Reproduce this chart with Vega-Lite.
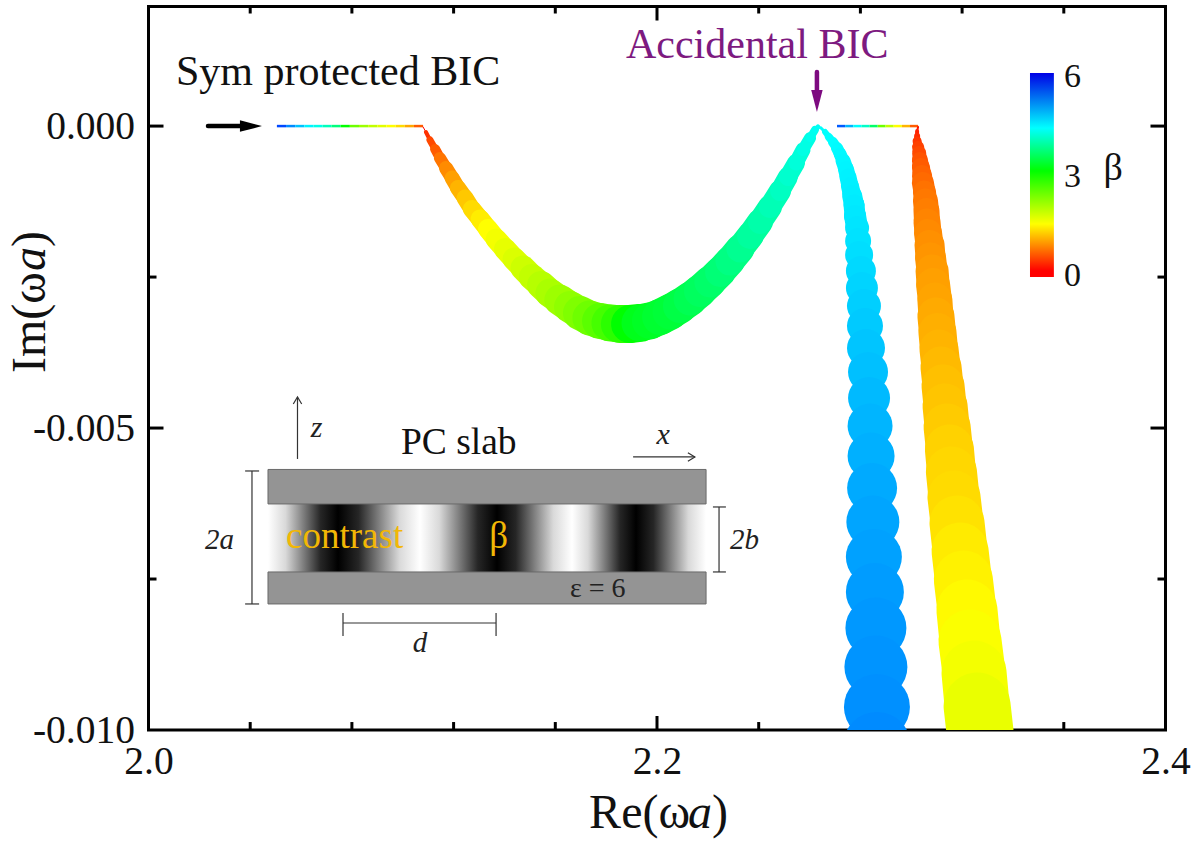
{"$schema":"https://vega.github.io/schema/vega-lite/v6.json","autosize":{"type":"none"},"padding":{"left":148.5,"top":6.5,"right":37.5,"bottom":111},"width":1017,"height":723.5,"background":"white","config":{"font":"Liberation Serif","view":{"stroke":"#000","strokeWidth":3},"text":{"font":"Liberation Serif"}},
"datasets":{
"band1":[
{"x":2.1080,"y":-0.000015,"d":1,"beta":0},{"x":2.1091,"y":-0.000098,"d":4,"beta":0.1},{"x":2.1107,"y":-0.00023,"d":7,"beta":0.2},{"x":2.1127,"y":-0.000379,"d":10,"beta":0.3},{"x":2.1146,"y":-0.000528,"d":12,"beta":0.45},{"x":2.1170,"y":-0.000694,"d":14,"beta":0.6},{"x":2.1194,"y":-0.000859,"d":15,"beta":0.75},{"x":2.1217,"y":-0.001025,"d":16,"beta":0.9},{"x":2.1245,"y":-0.001191,"d":17,"beta":1.05},{"x":2.1272,"y":-0.001373,"d":18,"beta":1.2},{"x":2.1304,"y":-0.001538,"d":19,"beta":1.35},{"x":2.1335,"y":-0.001704,"d":20,"beta":1.5},{"x":2.1367,"y":-0.001869,"d":21,"beta":1.62},{"x":2.1402,"y":-0.002035,"d":22,"beta":1.75},{"x":2.1438,"y":-0.0022,"d":23,"beta":1.87},{"x":2.1473,"y":-0.00235,"d":25,"beta":2.0},{"x":2.1508,"y":-0.002499,"d":26,"beta":2.1},{"x":2.1544,"y":-0.002631,"d":28,"beta":2.2},{"x":2.1579,"y":-0.002764,"d":29,"beta":2.3},{"x":2.1618,"y":-0.00288,"d":31,"beta":2.4},{"x":2.1658,"y":-0.002995,"d":32,"beta":2.5},{"x":2.1697,"y":-0.003095,"d":34,"beta":2.6},{"x":2.1736,"y":-0.003177,"d":35,"beta":2.7},{"x":2.1776,"y":-0.003227,"d":36,"beta":2.8},{"x":2.1815,"y":-0.00326,"d":37,"beta":2.88},{"x":2.1854,"y":-0.003277,"d":38,"beta":2.95},{"x":2.1894,"y":-0.003277,"d":38,"beta":3.0},{"x":2.1933,"y":-0.00326,"d":37,"beta":3.03},{"x":2.1972,"y":-0.003227,"d":36,"beta":3.05},{"x":2.2012,"y":-0.003161,"d":36,"beta":3.08},{"x":2.2051,"y":-0.003078,"d":35,"beta":3.1},{"x":2.2090,"y":-0.002979,"d":34,"beta":3.15},{"x":2.2130,"y":-0.002863,"d":33,"beta":3.2},{"x":2.2169,"y":-0.00273,"d":32,"beta":3.25},{"x":2.2208,"y":-0.002581,"d":31,"beta":3.3},{"x":2.2248,"y":-0.002416,"d":30,"beta":3.37},{"x":2.2287,"y":-0.002234,"d":29,"beta":3.44},{"x":2.2326,"y":-0.002035,"d":27,"beta":3.52},{"x":2.2366,"y":-0.00182,"d":26,"beta":3.6},{"x":2.2405,"y":-0.001588,"d":24,"beta":3.68},{"x":2.2444,"y":-0.00134,"d":22,"beta":3.76},{"x":2.2484,"y":-0.001075,"d":20,"beta":3.85},{"x":2.2515,"y":-0.000843,"d":18,"beta":3.95},{"x":2.2547,"y":-0.000611,"d":15,"beta":4.05},{"x":2.2574,"y":-0.000396,"d":12,"beta":4.15},{"x":2.2602,"y":-0.000197,"d":8,"beta":4.25},{"x":2.2621,"y":-0.000065,"d":5,"beta":4.32},{"x":2.2633,"y":-0.000015,"d":2,"beta":4.4}
],
"band2":[
{"x":2.2633,"y":-0.000015,"d":2,"beta":4.42},{"x":2.2645,"y":-0.000031,"d":3,"beta":4.45},{"x":2.2661,"y":-0.000098,"d":6,"beta":4.47},{"x":2.2676,"y":-0.00018,"d":8,"beta":4.49},{"x":2.2692,"y":-0.000263,"d":10,"beta":4.51},{"x":2.2708,"y":-0.000363,"d":12,"beta":4.53},{"x":2.2720,"y":-0.000462,"d":13,"beta":4.55},{"x":2.2732,"y":-0.000578,"d":15,"beta":4.57},{"x":2.2743,"y":-0.00071,"d":16,"beta":4.59},{"x":2.2751,"y":-0.000843,"d":17,"beta":4.61},{"x":2.2759,"y":-0.000992,"d":18,"beta":4.63},{"x":2.2767,"y":-0.001141,"d":20,"beta":4.65},{"x":2.2775,"y":-0.001306,"d":21,"beta":4.67},{"x":2.2779,"y":-0.001489,"d":22,"beta":4.70},{"x":2.2787,"y":-0.001687,"d":24,"beta":4.72},{"x":2.2791,"y":-0.001903,"d":26,"beta":4.75},{"x":2.2795,"y":-0.002134,"d":28,"beta":4.78},{"x":2.2802,"y":-0.002399,"d":30,"beta":4.82},{"x":2.2806,"y":-0.002681,"d":32,"beta":4.86},{"x":2.2814,"y":-0.002979,"d":34,"beta":4.90},{"x":2.2818,"y":-0.00331,"d":36,"beta":4.94},{"x":2.2822,"y":-0.003674,"d":38,"beta":4.98},{"x":2.2830,"y":-0.004072,"d":40,"beta":5.02},{"x":2.2834,"y":-0.004502,"d":42,"beta":5.06},{"x":2.2838,"y":-0.004966,"d":45,"beta":5.1},{"x":2.2842,"y":-0.005463,"d":47,"beta":5.14},{"x":2.2846,"y":-0.005992,"d":50,"beta":5.18},{"x":2.2849,"y":-0.006555,"d":53,"beta":5.22},{"x":2.2853,"y":-0.007135,"d":56,"beta":5.25},{"x":2.2857,"y":-0.007714,"d":58,"beta":5.28},{"x":2.2861,"y":-0.008311,"d":61,"beta":5.31},{"x":2.2861,"y":-0.008956,"d":63,"beta":5.34},{"x":2.2865,"y":-0.009619,"d":66,"beta":5.37},{"x":2.2865,"y":-0.010264,"d":68,"beta":5.4}
],
"band3":[
{"x":2.3027,"y":-0.000015,"d":2,"beta":0.02},{"x":2.3023,"y":-0.000081,"d":4,"beta":0.05},{"x":2.3023,"y":-0.000164,"d":6,"beta":0.08},{"x":2.3023,"y":-0.000247,"d":9,"beta":0.12},{"x":2.3027,"y":-0.000346,"d":12,"beta":0.16},{"x":2.3031,"y":-0.000445,"d":14,"beta":0.2},{"x":2.3034,"y":-0.000561,"d":16,"beta":0.25},{"x":2.3038,"y":-0.000677,"d":18,"beta":0.29},{"x":2.3042,"y":-0.00081,"d":20,"beta":0.34},{"x":2.3046,"y":-0.000942,"d":22,"beta":0.38},{"x":2.3052,"y":-0.001091,"d":23,"beta":0.43},{"x":2.3056,"y":-0.00124,"d":25,"beta":0.47},{"x":2.3060,"y":-0.001406,"d":26,"beta":0.51},{"x":2.3062,"y":-0.001588,"d":27,"beta":0.55},{"x":2.3066,"y":-0.00177,"d":28,"beta":0.59},{"x":2.3072,"y":-0.001969,"d":30,"beta":0.63},{"x":2.3076,"y":-0.002184,"d":31,"beta":0.67},{"x":2.3082,"y":-0.002399,"d":33,"beta":0.71},{"x":2.3086,"y":-0.002631,"d":34,"beta":0.75},{"x":2.3093,"y":-0.00288,"d":35,"beta":0.78},{"x":2.3097,"y":-0.003144,"d":37,"beta":0.82},{"x":2.3103,"y":-0.003409,"d":38,"beta":0.86},{"x":2.3109,"y":-0.003691,"d":39,"beta":0.9},{"x":2.3117,"y":-0.003989,"d":41,"beta":0.94},{"x":2.3125,"y":-0.004303,"d":43,"beta":0.99},{"x":2.3133,"y":-0.004635,"d":45,"beta":1.03},{"x":2.3141,"y":-0.004982,"d":47,"beta":1.08},{"x":2.3150,"y":-0.005347,"d":49,"beta":1.13},{"x":2.3158,"y":-0.005727,"d":51,"beta":1.17},{"x":2.3168,"y":-0.006141,"d":53,"beta":1.2},{"x":2.3180,"y":-0.006572,"d":55,"beta":1.26},{"x":2.3192,"y":-0.007036,"d":57,"beta":1.33},{"x":2.3205,"y":-0.007516,"d":59,"beta":1.39},{"x":2.3219,"y":-0.008012,"d":61,"beta":1.46},{"x":2.3231,"y":-0.008526,"d":63,"beta":1.54},{"x":2.3247,"y":-0.009056,"d":65,"beta":1.62},{"x":2.3259,"y":-0.009602,"d":67,"beta":1.72},{"x":2.3274,"y":-0.010165,"d":69,"beta":1.8}
],
"flat":[
{"x":2.0505,"x2":2.0541,"y":0,"beta":5.8},{"x":2.0541,"x2":2.0577,"y":0,"beta":5.4},{"x":2.0577,"x2":2.0613,"y":0,"beta":5.0},{"x":2.0613,"x2":2.0649,"y":0,"beta":4.6},{"x":2.0649,"x2":2.0685,"y":0,"beta":4.2},{"x":2.0685,"x2":2.0720,"y":0,"beta":3.8},{"x":2.0720,"x2":2.0756,"y":0,"beta":3.4},{"x":2.0756,"x2":2.0792,"y":0,"beta":3.0},{"x":2.0792,"x2":2.0828,"y":0,"beta":2.7},{"x":2.0828,"x2":2.0864,"y":0,"beta":2.4},{"x":2.0864,"x2":2.0900,"y":0,"beta":2.1},{"x":2.0900,"x2":2.0936,"y":0,"beta":1.8},{"x":2.0936,"x2":2.0972,"y":0,"beta":1.5},{"x":2.0972,"x2":2.1008,"y":0,"beta":1.2},{"x":2.1008,"x2":2.1044,"y":0,"beta":0.8},{"x":2.1044,"x2":2.1080,"y":0,"beta":0.3},
{"x":2.2708,"x2":2.2740,"y":0,"beta":5.7},{"x":2.2740,"x2":2.2772,"y":0,"beta":5.1},{"x":2.2772,"x2":2.2804,"y":0,"beta":4.5},{"x":2.2804,"x2":2.2836,"y":0,"beta":3.9},{"x":2.2836,"x2":2.2868,"y":0,"beta":3.3},{"x":2.2868,"x2":2.2899,"y":0,"beta":2.7},{"x":2.2899,"x2":2.2931,"y":0,"beta":2.1},{"x":2.2931,"x2":2.2963,"y":0,"beta":1.5},{"x":2.2963,"x2":2.2995,"y":0,"beta":0.9},{"x":2.2995,"x2":2.3027,"y":0,"beta":0.3}
],
"ticks":[
{"x":2.04,"x2":2.04,"y":-0.01,"y2":-0.009868},{"x":2.08,"x2":2.08,"y":-0.01,"y2":-0.009868},{"x":2.12,"x2":2.12,"y":-0.01,"y2":-0.009868},{"x":2.16,"x2":2.16,"y":-0.01,"y2":-0.009868},{"x":2.2,"x2":2.2,"y":-0.01,"y2":-0.009768},{"x":2.24,"x2":2.24,"y":-0.01,"y2":-0.009868},{"x":2.28,"x2":2.28,"y":-0.01,"y2":-0.009868},{"x":2.32,"x2":2.32,"y":-0.01,"y2":-0.009868},{"x":2.36,"x2":2.36,"y":-0.01,"y2":-0.009868},
{"x":2.04,"x2":2.04,"y":0.00198,"y2":0.001864},{"x":2.08,"x2":2.08,"y":0.00198,"y2":0.001864},{"x":2.12,"x2":2.12,"y":0.00198,"y2":0.001864},{"x":2.16,"x2":2.16,"y":0.00198,"y2":0.001864},{"x":2.2,"x2":2.2,"y":0.00198,"y2":0.001748},{"x":2.24,"x2":2.24,"y":0.00198,"y2":0.001864},{"x":2.28,"x2":2.28,"y":0.00198,"y2":0.001864},{"x":2.32,"x2":2.32,"y":0.00198,"y2":0.001864},{"x":2.36,"x2":2.36,"y":0.00198,"y2":0.001864},
{"x":2,"x2":2.0059,"y":0,"y2":0},{"x":2,"x2":2.00315,"y":-0.0025,"y2":-0.0025},{"x":2,"x2":2.0059,"y":-0.005,"y2":-0.005},{"x":2,"x2":2.00315,"y":-0.0075,"y2":-0.0075},
{"x":2.4,"x2":2.3941,"y":0,"y2":0},{"x":2.4,"x2":2.39685,"y":-0.0025,"y2":-0.0025},{"x":2.4,"x2":2.3941,"y":-0.005,"y2":-0.005},{"x":2.4,"x2":2.39685,"y":-0.0075,"y2":-0.0075}
],
"slabs":[{"x":2.0470,"x2":2.2193,"y":-0.005686,"y2":-0.006257},{"x":2.0470,"x2":2.2193,"y":-0.007383,"y2":-0.007913}],
"lines":[
{"x":2.0586,"x2":2.0586,"y":-0.004486,"y2":-0.005512},{"x":2.1906,"x2":2.2149,"y":-0.005479,"y2":-0.005479},
{"x":2.0407,"x2":2.0407,"y":-0.005711,"y2":-0.007913},{"x":2.0380,"x2":2.0435,"y":-0.005711,"y2":-0.005711},{"x":2.0380,"x2":2.0435,"y":-0.007913,"y2":-0.007913},
{"x":2.2244,"x2":2.2244,"y":-0.006307,"y2":-0.007383},{"x":2.2220,"x2":2.2271,"y":-0.006307,"y2":-0.006307},{"x":2.2220,"x2":2.2271,"y":-0.007383,"y2":-0.007383},
{"x":2.0765,"x2":2.1367,"y":-0.008228,"y2":-0.008228},{"x":2.0765,"x2":2.0765,"y":-0.008062,"y2":-0.008443},{"x":2.1367,"x2":2.1367,"y":-0.008062,"y2":-0.008443}
]
},
"encoding":{
"x":{"field":"x","type":"quantitative","scale":{"domain":[2,2.4],"nice":false,"zero":false},"axis":{"title":null,"grid":false,"domain":false,"ticks":false,"values":[2,2.2,2.4],"format":".1f","labelFont":"Liberation Serif","labelFontSize":39.5,"labelColor":"#111","labelPadding":12.5,"labelFlush":false,"labelOverlap":false,"labelBound":false}},
"y":{"field":"y","type":"quantitative","scale":{"domain":[-0.01,0.00198],"nice":false,"zero":false},"axis":{"title":null,"grid":false,"domain":false,"ticks":false,"values":[0,-0.005,-0.01],"labelExpr":"replace(format(datum.value,'.3f'),'−','-')","labelFont":"Liberation Serif","labelFontSize":39.5,"labelColor":"#111","labelPadding":14,"labelFlush":false,"labelOverlap":false,"labelBound":false}}
},
"layer":[
{"data":{"values":[{"x":2.0470,"x2":2.2193,"y":-0.006257,"y2":-0.007383}]},"mark":{"type":"rect","fill":{"gradient":"linear","x1":0,"y1":0,"x2":1,"y2":0,"stops":[{"offset":0,"color":"#ffffff"},{"offset":0.04,"color":"#d9d9d9"},{"offset":0.08,"color":"#808080"},{"offset":0.12,"color":"#262626"},{"offset":0.1598,"color":"#000000"},{"offset":0.2066,"color":"#262626"},{"offset":0.2534,"color":"#808080"},{"offset":0.3002,"color":"#d9d9d9"},{"offset":0.347,"color":"#ffffff"},{"offset":0.391,"color":"#d9d9d9"},{"offset":0.4349,"color":"#808080"},{"offset":0.4789,"color":"#262626"},{"offset":0.5228,"color":"#000000"},{"offset":0.5656,"color":"#262626"},{"offset":0.6084,"color":"#808080"},{"offset":0.6512,"color":"#d9d9d9"},{"offset":0.694,"color":"#ffffff"},{"offset":0.7305,"color":"#d9d9d9"},{"offset":0.767,"color":"#808080"},{"offset":0.8035,"color":"#262626"},{"offset":0.84,"color":"#000000"},{"offset":0.88,"color":"#262626"},{"offset":0.92,"color":"#808080"},{"offset":0.96,"color":"#d9d9d9"},{"offset":1,"color":"#ffffff"}]}},"encoding":{"x2":{"field":"x2"},"y2":{"field":"y2"}}},
{"data":{"name":"slabs"},"mark":{"type":"rect","fill":"#949494","stroke":"#6a6a6a","strokeWidth":1},"encoding":{"x2":{"field":"x2"},"y2":{"field":"y2"}}},
{"data":{"name":"lines"},"mark":{"type":"rule","color":"#333333","strokeWidth":1.2},"encoding":{"x2":{"field":"x2"},"y2":{"field":"y2"}}},
{"data":{"name":"ticks"},"mark":{"type":"rule","color":"#000000","strokeWidth":3},"encoding":{"x2":{"field":"x2"},"y2":{"field":"y2"}}},
{"data":{"name":"flat"},"mark":{"type":"rule","strokeWidth":2.5},"encoding":{"x2":{"field":"x2"},"color":{"field":"beta","type":"quantitative","legend":null}}},
{"data":{"name":"band1"},"transform":[{"window":[{"op":"lead","field":"x","as":"nx"},{"op":"lead","field":"y","as":"ny"}]},{"filter":"datum.nx != null"}],"mark":{"type":"rule","strokeCap":"round","clip":true},"encoding":{"x2":{"field":"nx"},"y2":{"field":"ny"},"strokeWidth":{"field":"d","type":"quantitative","legend":null,"scale":{"domain":[0,100],"range":[0,100]}},"color":{"field":"beta","type":"quantitative","legend":null}}},
{"data":{"name":"band3"},"transform":[{"window":[{"op":"lead","field":"x","as":"nx"},{"op":"lead","field":"y","as":"ny"}]},{"filter":"datum.nx != null"}],"mark":{"type":"rule","strokeCap":"round","clip":true},"encoding":{"x2":{"field":"nx"},"y2":{"field":"ny"},"strokeWidth":{"field":"d","type":"quantitative","legend":null,"scale":{"domain":[0,100],"range":[0,100]}},"color":{"field":"beta","type":"quantitative","legend":null}}},
{"data":{"name":"band2"},"transform":[{"window":[{"op":"lead","field":"x","as":"nx"},{"op":"lead","field":"y","as":"ny"}]},{"filter":"datum.y > -0.0015"}],"mark":{"type":"rule","strokeCap":"round","clip":true},"encoding":{"x2":{"field":"nx"},"y2":{"field":"ny"},"strokeWidth":{"field":"d","type":"quantitative","legend":null,"scale":{"domain":[0,100],"range":[0,100]}},"color":{"field":"beta","type":"quantitative","legend":null}}},
{"data":{"name":"band2"},"transform":[{"filter":"datum.y < -0.0013"}],"mark":{"type":"point","filled":true,"opacity":1,"strokeWidth":0,"clip":true,"shape":"circle"},"encoding":{"size":{"field":"d","type":"quantitative","legend":null,"scale":{"type":"pow","exponent":2,"domain":[0,100],"range":[0,10000]}},"color":{"field":"beta","type":"quantitative","legend":null,"scale":{"domain":[0,1.5,3,4.5,6],"range":["#ff0000","#ffff00","#00ff00","#00ffff","#0000e6"]}}}},
{"data":{"values":[{"x":2.3467,"x2":2.3561,"y":0.000879,"y2":-0.002499}]},"mark":{"type":"rect","fill":{"gradient":"linear","x1":0,"y1":0,"x2":0,"y2":1,"stops":[{"offset":0,"color":"#0000e6"},{"offset":0.27,"color":"#00ffff"},{"offset":0.48,"color":"#00ff00"},{"offset":0.74,"color":"#ffff00"},{"offset":0.97,"color":"#ff0000"},{"offset":1,"color":"#ff0000"}]}},"encoding":{"x2":{"field":"x2"},"y2":{"field":"y2"}}},
{"data":{"values":[{"x":2.3601,"y":0.000646,"label":"6"},{"x":2.3601,"y":-0.001009,"label":"3"},{"x":2.3601,"y":-0.002648,"label":"0"}]},"mark":{"type":"text","align":"left","baseline":"alphabetic","fontSize":34,"color":"#111111"},"encoding":{"text":{"field":"label"}}},
{"data":{"values":[{"x":2.0234,"x2":2.0364,"y":0,"y2":0}]},"mark":{"type":"rule","color":"#000000","strokeWidth":4.5,"strokeCap":"round"},"encoding":{"x2":{"field":"x2"},"y2":{"field":"y2"}}},
{"data":{"values":[{"x":2.0403,"y":0}]},"mark":{"type":"point","filled":true,"opacity":1,"color":"#000000","strokeWidth":0,"size":484,"shape":"M -1 -0.52 L 1 0 L -1 0.52 Z"}},
{"data":{"values":[{"x":2.2629,"x2":2.2629,"y":0.000896,"y2":0.000565}]},"mark":{"type":"rule","color":"#7d0a80","strokeWidth":4.5,"strokeCap":"round"},"encoding":{"x2":{"field":"x2"},"y2":{"field":"y2"}}},
{"data":{"values":[{"x":2.2629,"y":0.000416}]},"mark":{"type":"point","filled":true,"opacity":1,"color":"#7d0a80","strokeWidth":0,"size":484,"shape":"M -0.52 -1 L 0.52 -1 L 0 1 Z"}},
{"data":{"values":[{"x":2.0586,"y":-0.004486}]},"mark":{"type":"point","filled":false,"opacity":1,"color":"#333333","strokeWidth":1.2,"size":196,"shape":"M -0.6 1 L 0 0 L 0.6 1"}},
{"data":{"values":[{"x":2.2149,"y":-0.005479}]},"mark":{"type":"point","filled":false,"opacity":1,"color":"#333333","strokeWidth":1.2,"size":196,"shape":"M -1 -0.6 L 0 0 L -1 0.6"}},
{"data":{"values":[{"x":2.0108,"y":0.000681,"label":"Sym protected BIC"}]},"mark":{"type":"text","align":"left","baseline":"alphabetic","fontSize":42,"color":"#111111"},"encoding":{"text":{"field":"label"}}},
{"data":{"values":[{"x":2.1878,"y":0.001128,"label":"Accidental BIC"}]},"mark":{"type":"text","align":"left","baseline":"alphabetic","fontSize":42,"color":"#7d1a80"},"encoding":{"text":{"field":"label"}}},
{"data":{"values":[{"x":2.3794,"y":-0.000892,"label":"β"}]},"mark":{"type":"text","align":"center","baseline":"alphabetic","fontSize":38,"color":"#111111"},"encoding":{"text":{"field":"label"}}},
{"data":{"values":[{"x":2.0993,"y":-0.00543,"label":"PC slab"}]},"mark":{"type":"text","align":"left","baseline":"alphabetic","fontSize":37.5,"color":"#111111"},"encoding":{"text":{"field":"label"}}},
{"data":{"values":[{"x":2.0541,"y":-0.006986,"label":"contrast"},{"x":2.1340,"y":-0.006986,"label":"β"}]},"mark":{"type":"text","align":"left","baseline":"alphabetic","fontSize":37,"color":"#f2b705"},"encoding":{"text":{"field":"label"}}},
{"data":{"values":[{"x":2.1658,"y":-0.007797,"label":"ε = 6"}]},"mark":{"type":"text","align":"left","baseline":"alphabetic","fontSize":28,"color":"#222222"},"encoding":{"text":{"field":"label"}}},
{"data":{"values":[{"x":2.0661,"y":-0.005148,"label":"z"},{"x":2.2024,"y":-0.005264,"label":"x"}]},"mark":{"type":"text","align":"center","baseline":"alphabetic","fontSize":30,"fontStyle":"italic","color":"#222222"},"encoding":{"text":{"field":"label"}}},
{"data":{"values":[{"x":2.0222,"y":-0.007002,"label":"2a"},{"x":2.2287,"y":-0.007002,"label":"2b"},{"x":2.1039,"y":-0.00871,"label":"d"}]},"mark":{"type":"text","align":"left","baseline":"alphabetic","fontSize":29,"fontStyle":"italic","color":"#222222"},"encoding":{"text":{"field":"label"}}},
{"data":{"values":[{"x":2.1733,"y":-0.011622,"label":"Re(ω"},{"x":2.2216,"y":-0.011622,"label":")"}]},"mark":{"type":"text","align":"left","baseline":"alphabetic","fontSize":48,"color":"#111111"},"encoding":{"text":{"field":"label"}}},
{"data":{"values":[{"x":2.2122,"y":-0.011622,"label":"a"}]},"mark":{"type":"text","align":"left","baseline":"alphabetic","fontSize":48,"fontStyle":"italic","color":"#111111"},"encoding":{"text":{"field":"label"}}},
{"data":{"values":[{"x":1.9593,"y":-0.004088,"label":"Im(ω"},{"x":1.9593,"y":-0.002002,"label":")"}]},"mark":{"type":"text","align":"left","baseline":"alphabetic","angle":270,"fontSize":48,"color":"#111111"},"encoding":{"text":{"field":"label"}}},
{"data":{"values":[{"x":1.9593,"y":-0.002399,"label":"a"}]},"mark":{"type":"text","align":"left","baseline":"alphabetic","angle":270,"fontSize":48,"fontStyle":"italic","color":"#111111"},"encoding":{"text":{"field":"label"}}}
]}
